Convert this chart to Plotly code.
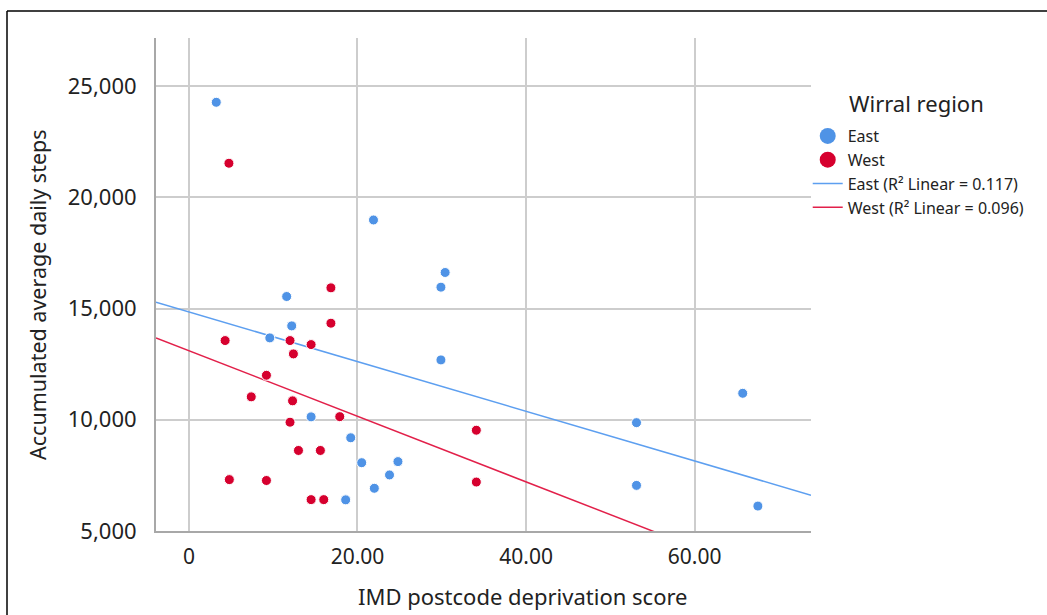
import plotly.graph_objects as go

# ---- data ----
east_x = [3.25, 21.9, 30.4, 29.9, 11.6, 12.2, 9.6, 29.9, 14.5, 19.2, 20.5, 24.8, 23.8, 22.0, 18.6, 53.1, 53.1, 65.7, 67.5]
east_y = [24270, 18980, 16620, 15960, 15540, 14220, 13680, 12690, 10130, 9190, 8070, 8120, 7520, 6920, 6400, 9870, 7050, 11190, 6120]

west_x = [4.75, 16.85, 16.85, 4.3, 12.0, 14.5, 12.4, 9.2, 7.4, 12.3, 17.9, 12.0, 13.0, 15.6, 4.8, 9.2, 14.5, 16.0, 34.1, 34.1]
west_y = [21530, 15930, 14340, 13560, 13560, 13380, 12960, 12000, 11030, 10850, 10140, 9890, 8620, 8620, 7310, 7270, 6410, 6410, 9530, 7200]

# linear fit lines (intercept, slope)
east_fit = (14845, -111.6)
west_fit = (13105, -147.4)

x_ticks = [0, 20, 40, 60]
x_tick_labels = ["0", "20.00", "40.00", "60.00"]
y_ticks = [5000, 10000, 15000, 20000, 25000]
y_tick_labels = ["5,000", "10,000", "15,000", "20,000", "25,000"]

X_RANGE = [-3.9, 73.8]
Y_RANGE = [5000, 27160]

BLUE = "#4f93e6"
RED = "#d6002e"
BLUE_LINE = "#5d9ff0"
RED_LINE = "#e2204a"
FONT = "Noto Sans"

fig = go.Figure()

# legend-only larger markers
fig.add_trace(go.Scatter(x=[None], y=[None], mode="markers", name="East",
                         marker=dict(color=BLUE, size=16)))
fig.add_trace(go.Scatter(x=[None], y=[None], mode="markers", name="West",
                         marker=dict(color=RED, size=16)))

# regression lines
for fit, col, name in [(east_fit, BLUE_LINE, "East (R² Linear = 0.117)"),
                       (west_fit, RED_LINE, "West (R² Linear = 0.096)")]:
    xs = X_RANGE
    ys = [fit[0] + fit[1] * v for v in xs]
    fig.add_trace(go.Scatter(x=xs, y=ys, mode="lines", name=name,
                             line=dict(color=col, width=1.5), hoverinfo="skip"))

# points
fig.add_trace(go.Scatter(x=east_x, y=east_y, mode="markers", name="East", showlegend=False,
                         marker=dict(color=BLUE, size=10, line=dict(color="white", width=1))))
fig.add_trace(go.Scatter(x=west_x, y=west_y, mode="markers", name="West", showlegend=False,
                         marker=dict(color=RED, size=10, line=dict(color="white", width=1))))

# outer frame (top and left edges visible)
px_left, px_right, px_top, px_bottom = 156, 811, 38, 531
pw, ph = px_right - px_left, px_bottom - px_top
def pxx(p):
    return (p - px_left) / pw
def pxy(p):
    return (px_bottom - p) / ph

fig.add_shape(type="line", xref="paper", yref="paper", x0=pxx(7), x1=pxx(1060), y0=pxy(11), y1=pxy(11),
              line=dict(color="black", width=1.5))
fig.add_shape(type="line", xref="paper", yref="paper", x0=pxx(7), x1=pxx(7), y0=pxy(11), y1=pxy(630),
              line=dict(color="black", width=1.5))

# titles as annotations
fig.add_annotation(xref="paper", yref="paper", x=pxx(523), y=pxy(596), text="IMD postcode deprivation score",
                   showarrow=False, xanchor="center", yanchor="middle", font=dict(size=22, family=FONT, color="#222"))
fig.add_annotation(xref="paper", yref="paper", x=pxx(37), y=pxy(295), text="Accumulated average daily steps",
                   showarrow=False, textangle=-90, xanchor="center", yanchor="middle",
                   font=dict(size=21.5, family=FONT, color="#222"))
fig.add_annotation(xref="paper", yref="paper", x=pxx(847), y=pxy(103), text="Wirral region",
                   showarrow=False, xanchor="left", yanchor="middle", font=dict(size=22, family=FONT, color="#222"))

fig.update_layout(
    width=1047, height=615,
    margin=dict(l=px_left, r=1047 - px_right, t=px_top, b=615 - px_bottom, autoexpand=False),
    paper_bgcolor="white", plot_bgcolor="white",
    font=dict(family=FONT, color="#222222", size=16),
    showlegend=True,
    legend=dict(x=0.995, xanchor="left", y=pxy(119), yanchor="top",
                font=dict(size=16, family=FONT), tracegroupgap=0,
                traceorder="normal", itemsizing="trace", bgcolor="rgba(0,0,0,0)"),
    xaxis=dict(range=X_RANGE, tickvals=x_ticks, ticktext=x_tick_labels,
               showgrid=True, gridcolor="#cdcdcd", gridwidth=1.5,
               showline=True, linecolor="#a8a8a8", linewidth=2,
               zeroline=False, ticks="", ticklabelstandoff=6,
               tickfont=dict(size=21, family=FONT)),
    yaxis=dict(range=Y_RANGE, tickvals=y_ticks, ticktext=y_tick_labels,
               showgrid=True, gridcolor="#cdcdcd", gridwidth=1.5,
               showline=True, linecolor="#a8a8a8", linewidth=2,
               zeroline=False, ticks="", ticklabelstandoff=13,
               tickfont=dict(size=22, family=FONT)),
)

fig.write_html("out.html")
